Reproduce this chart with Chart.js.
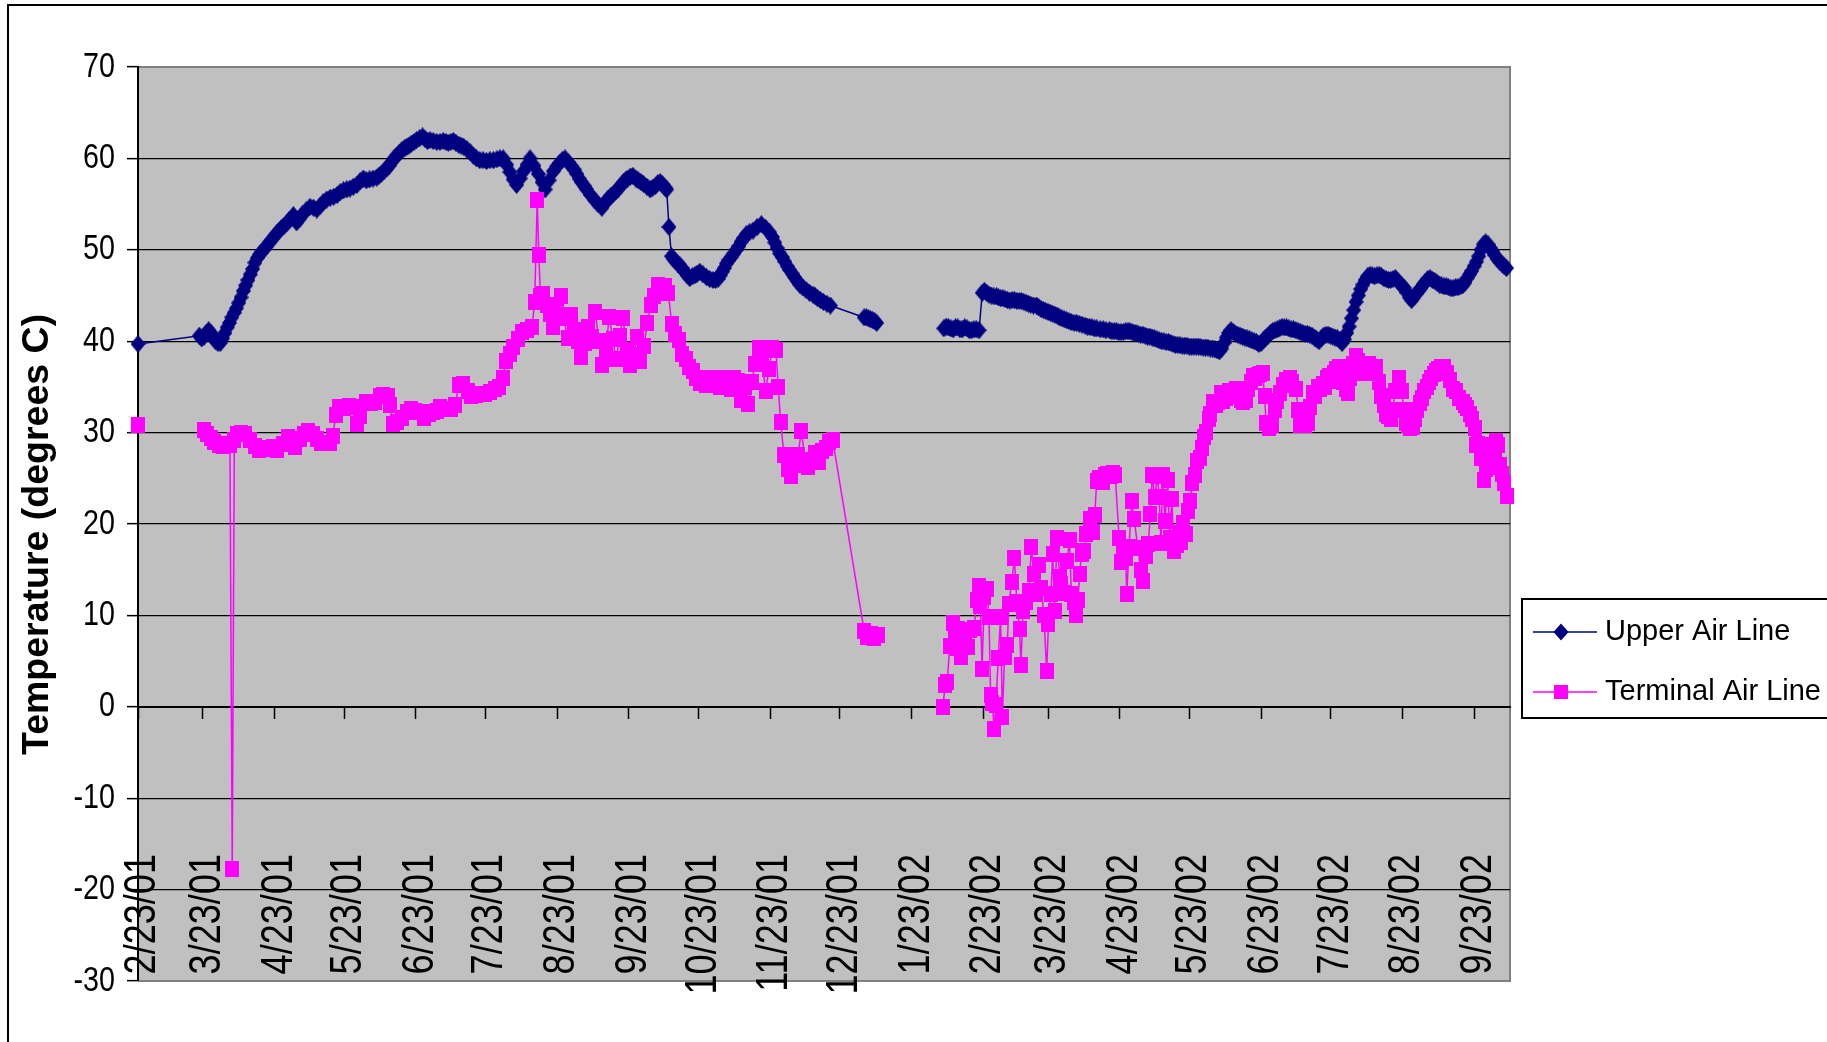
<!DOCTYPE html>
<html>
<head>
<meta charset="utf-8">
<title>Upper and Terminal Air Line Temperatures</title>
<script src="https://cdn.jsdelivr.net/npm/chart.js@4/dist/chart.umd.min.js"></script>
<style>
  html, body { margin: 0; padding: 0; background: #ffffff; overflow: hidden; }
  #wrap { position: relative; width: 1827px; height: 1042px; }
</style>
</head>
<body>
<div id="wrap"><canvas id="chart" width="1827" height="1042"></canvas></div>
<script>
// Category axis: the 23rd of every month, Feb 2001 to Sep 2002
const tickLabels = ['2/23/01', '3/23/01', '4/23/01', '5/23/01', '6/23/01', '7/23/01', '8/23/01',
  '9/23/01', '10/23/01', '11/23/01', '12/23/01', '1/23/02', '2/23/02', '3/23/02', '4/23/02',
  '5/23/02', '6/23/02', '7/23/02', '8/23/02', '9/23/02'];

// Readings: day counted from 2/23/01, temperature in degrees C (null = no reading)
const upperDays = [
  0, 26.5, 27.5, 28.5, 29.5, 30.5, 31.5, 32.5, 33.5, 34.5,
  35.5, 36.5, 37.5, 38.5, 39.5, 40.5, 41.5, 42.5, 43.5, 44.5,
  45.5, 46.5, 47.5, 48.5, 49.5, 50.5, 51.5, 52.5, 53.5, 54.5,
  55.6, 56.7, 57.8, 58.9, 59.9, 61, 62, 63.1, 64.2, 65.5,
  67.1, 68.5, 69.8, 71, 72.6, 74.3, 75.8, 77.2, 78.6, 80,
  81.5, 83, 84.5, 86, 87.3, 88.7, 90.1, 91.5, 93, 94.5,
  95.9, 97.3, 98.6, 100, 101.5, 103.1, 104, 105, 106.2, 107.4,
  108.5, 109.5, 110.6, 111.7, 112.8, 114, 115, 116, 117, 118,
  119.2, 120.3, 121.6, 122.9, 124, 125, 126.1, 127.5, 129, 130.4,
  131.8, 133, 134, 135.1, 136.2, 137.3, 138.5, 139.5, 140.5, 142,
  143.4, 144.8, 146.2, 147.6, 149, 150.5, 152, 153.5, 155, 156.3,
  157.7, 159.2, 160.6, 162, 163.5, 165, 166.5, 168, 169.3, 171,
  172.9, 174.5, 175.8, 177.5, 179.4, 180.7, 182, 183.2, 184.4, 185.7,
  187, 188.3, 189.5, 190.5, 191.5, 192.7, 193.8, 195.4, 197, 198.7,
  200.3, 201.7, 203, 204.2, 205.3, 206.4, 207.5, 208.5, 209.6, 210.5,
  211.5, 212.6, 213.7, 215, 216, 217.2, 218.3, 219.8, 221.2, 222.3,
  223.5, 224.5, 225.5, 226.3, 227, 227.7, 228.3, 229.3, 230.4, 231.2,
  232, 233, 234, 235, 236, 237.2, 238.3, 239.4, 240.5, 241.5,
  242.6, 244, 245.5, 246.9, 248.3, 249.4, 250.5, 251.4, 252.3, 253.2,
  254.1, 255.2, 256.2, 257.3, 258.4, 259.5, 260.5, 261.6, 262.7, 264,
  265.6, 267.4, 269.2, 271, 272.8, 274, 275, 276, 277.1, 278.2,
  279.3, 280.4, 281.4, 282.5, 283.5, 284.6, 285.7, 287, 288.5, 290,
  291.5, 292.5, 293.5, 294.7, 296, 297.5, 299, 313.6, 314.5, 315.4,
  316.3, 317.2, 318.1, 319, 333, 348, 349, 350, 351, 352,
  353, 354, 355, 356, 357, 358, 359, 360, 361, 362,
  363.2, 364.6, 365.5, 366.5, 367.5, 368.5, 369.6, 370.7, 371.6, 372.5,
  373.5, 374.5, 375.5, 376.5, 377.5, 378.5, 379.5, 380.5, 381.5, 382.5,
  383.5, 384.5, 385.5, 386.7, 388, 389, 390, 391, 392, 393,
  394, 395, 396, 397, 398, 399, 400, 401, 402, 403,
  404.2, 405.3, 406.5, 407.7, 409, 410, 411, 412, 413, 414,
  415.5, 416.8, 418, 419.5, 420.5, 421.5, 422.5, 423.5, 424.5, 425.5,
  426.5, 427.5, 428.3, 429.3, 430.2, 431, 432, 433, 434, 435,
  436, 437, 438, 439, 440, 441, 442, 443, 444, 445,
  446, 447, 448, 449, 450, 451, 452, 453, 454, 455,
  456, 457, 458, 459, 460, 461, 462, 463, 464, 465,
  466, 467, 468, 469, 470, 471, 472, 473, 474, 475,
  476, 477, 478, 479, 480, 481, 482, 483, 484, 485,
  486, 487, 488, 489, 490, 491, 492, 493, 494, 495,
  496, 497, 498, 499, 500, 501, 502, 503, 504, 505,
  506, 507, 508, 509, 510, 511, 512, 513, 514, 515,
  516, 517, 518, 519, 520, 521, 522, 523, 524, 525,
  526, 527, 528, 529, 530, 531, 532, 533, 534, 535,
  536, 537, 538, 539, 540, 541, 542, 543, 544, 545,
  546, 547, 548, 549, 550, 551, 552, 553, 554, 555,
  556, 557, 558, 559, 560, 561, 562, 563, 564, 565,
  566, 567, 568, 569, 570, 571, 572, 573, 574, 575,
  576, 577, 578, 579, 580, 581, 582, 583, 584, 585,
  586, 587, 588, 589, 590, 591];
const upperTemps = [
  39.7, 40.6, 40.3, 40.5, 40.9, 41.2, 40.9, 40.4, 40.0, 39.8,
  39.8, 40.3, 40.9, 41.5, 42.0, 42.6, 43.1, 43.6, 44.2, 44.8,
  45.5, 46.1, 46.7, 47.3, 47.9, 48.6, 49.1, 49.5, 49.8, 50.1,
  50.4, 50.8, 51.1, 51.5, 51.8, 52.1, 52.4, 52.6, 52.9, 53.3,
  53.8, 53.0, 53.4, 53.9, 54.3, 54.7, 54.6, 54.4, 54.8, 55.2,
  55.5, 55.7, 55.8, 56.0, 56.3, 56.5, 56.6, 56.7, 56.9, 57.1,
  57.5, 57.8, 57.6, 57.7, 57.8, 57.9, 58.1, 58.3, 58.6, 58.9,
  59.2, 59.6, 60.0, 60.3, 60.6, 60.9, 61.1, 61.25, 61.4, 61.6,
  61.8, 62.0, 62.2, 62.4, 62.1, 61.9, 62.0, 61.9, 61.8, 61.8,
  61.9, 61.8, 61.7, 61.8, 61.9, 61.7, 61.5, 61.4, 61.3, 61.0,
  60.7, 60.3, 60.0, 59.8, 59.8, 59.7, 59.8, 59.8, 59.9, 60.0,
  60.0, 59.3, 58.5, 57.7, 57.1, 57.8, 58.6, 59.3, 60.0, 59.2,
  58.3, 57.4, 56.6, 57.6, 58.6, 59.1, 59.5, 59.8, 60.0, 59.6,
  59.2, 58.8, 58.3, 57.8, 57.4, 57.0, 56.6, 56.0, 55.5, 55.0,
  54.6, 55.1, 55.6, 55.9, 56.1, 56.4, 56.7, 57.0, 57.4, 57.6,
  57.8, 58.0, 58.1, 57.8, 57.6, 57.4, 57.2, 56.9, 56.6, 56.8,
  57.0, 57.3, 57.4, 57.2, 57.0, 56.8, 56.6, 52.5, 49.3, 49.0,
  48.8, 48.5, 48.3, 48.0, 47.6, 47.2, 46.9, 47.1, 47.2, 47.4,
  47.6, 47.3, 47.0, 46.8, 46.7, 46.7, 46.8, 47.2, 47.6, 48.0,
  48.5, 48.9, 49.2, 49.6, 50.0, 50.4, 50.9, 51.3, 51.7, 51.9,
  52.1, 52.5, 52.8, 52.4, 51.9, 51.4, 50.8, 50.2, 49.6, 49.2,
  48.7, 48.2, 47.8, 47.4, 47.0, 46.6, 46.2, 45.9, 45.6, 45.3,
  45.1, 44.9, 44.7, 44.5, 44.3, 44.1, 43.9, 42.6, 42.6, 42.5,
  42.4, 42.3, 42.2, 42.0, null, 41.4, 41.6, 41.5, 41.4, 41.3,
  41.5, 41.5, 41.3, 41.3, 41.5, 41.4, 41.2, 41.2, 41.3, 41.3,
  41.2, 45.3, 45.5, 45.3, 45.1, 45.0, 44.9, 44.9, 44.8, 44.7,
  44.7, 44.6, 44.5, 44.45, 44.5, 44.5, 44.4, 44.4, 44.4, 44.3,
  44.2, 44.1, 44.0, 43.9, 43.9, 43.7, 43.5, 43.4, 43.3, 43.2,
  43.1, 43.0, 42.9, 42.8, 42.6, 42.5, 42.4, 42.3, 42.2, 42.1,
  42.0, 42.0, 41.9, 41.8, 41.7, 41.6, 41.55, 41.5, 41.4, 41.4,
  41.3, 41.3, 41.2, 41.2, 41.1, 41.1, 41.1, 41.0, 41.0, 41.0,
  41.1, 41.1, 41.1, 41.0, 40.9, 40.9, 40.8, 40.7, 40.7, 40.6,
  40.5, 40.5, 40.4, 40.3, 40.2, 40.1, 40.0, 40.0, 39.9, 39.9,
  39.8, 39.7, 39.6, 39.6, 39.55, 39.5, 39.5, 39.5, 39.4, 39.4,
  39.4, 39.4, 39.4, 39.35, 39.3, 39.3, 39.3, 39.2, 39.2, 39.1,
  39.0, 38.9, 39.2, 39.8, 40.4, 40.9, 41.2, 41.0, 40.8, 40.7,
  40.6, 40.5, 40.4, 40.3, 40.2, 40.1, 40.0, 39.9, 39.7, 39.8,
  40.1, 40.4, 40.6, 40.9, 41.1, 41.2, 41.3, 41.4, 41.55, 41.5,
  41.5, 41.4, 41.3, 41.3, 41.2, 41.1, 41.0, 40.9, 40.8, 40.8,
  40.7, 40.6, 40.4, 40.2, 40.0, 40.3, 40.6, 40.7, 40.7, 40.6,
  40.5, 40.4, 40.3, 40.1, 39.8, 40.2, 40.9, 41.6, 42.5, 43.4,
  44.3, 45.0, 45.7, 46.2, 46.7, 47.1, 47.25, 47.2, 47.1, 47.2,
  47.25, 47.1, 46.9, 46.8, 46.7, 46.7, 46.8, 46.9, 46.6, 46.3,
  46.0, 45.8, 45.3, 44.8, 44.5, 44.8, 45.2, 45.5, 45.8, 46.2,
  46.5, 46.8, 46.9, 46.7, 46.6, 46.4, 46.2, 46.1, 46.0, 46.0,
  45.9, 45.8, 45.8, 45.9, 45.9, 46.0, 46.1, 46.4, 46.9, 47.3,
  47.7, 48.2, 48.7, 49.3, 50.0, 50.6, 50.8, 50.6, 50.2, 49.8,
  49.4, 49.0, 48.7, 48.5, 48.2, 48.0];

const terminalDays = [0, 14, 28.4, 30, 31.5, 33, 35, 36.9, 38.3, 39.7, 40.7, 41.6, 42.6, 44.5,
  46.4, 48.5, 50.5, 52.3, 54.5, 56.5, 58.3, 60, 62.5, 64.8, 66.3, 67.6, 70, 71.8, 73.4, 75.5,
  77.5, 79.2, 81, 83, 84, 85.5, 86.8, 89, 91, 92.7, 94.6, 96, 98.4, 100.5, 102.5, 104.3, 106, 108,
  109, 110, 112, 114, 116, 117.7, 119.5, 121.5, 123.5, 125.5, 127.5, 129, 130.3, 132.5, 135, 137,
  138.5, 140.5, 142.5, 144, 146, 148, 150, 152, 154, 156, 157.5, 159, 160.5, 162, 164, 166, 168,
  170.2, 171.3, 172.4, 173.1, 173.8, 175, 176.5, 178, 179.4, 181, 182.5, 184, 185.5, 187, 188.5,
  190, 191.5, 193, 194.5, 196, 197.5, 199, 200.5, 202, 203.5, 205, 206.5, 208, 209.5, 211, 212.5,
  214, 215.5, 217, 218.5, 220, 221.5, 223, 224.5, 226, 227.5, 229, 230.5, 232, 233.5, 235, 236.5,
  238, 239.5, 241, 242.5, 244, 245.5, 247, 248.5, 250, 251.5, 253, 254.5, 256, 257.5, 259, 260.5,
  262, 263.5, 265, 266.5, 268, 269.5, 271, 272.5, 274, 275.5, 276.5, 277.5, 279, 280.5, 282,
  283.5, 285, 286.5, 288, 289.5, 291, 292.5, 294, 295.5, 297, 298.5, 300,
  313.6, 315, 316.5, 318, 319.5, 333,
  347.5, 348.7, 349.5, 350.5, 351.8, 352.7, 353.5, 354.3, 355.2, 356, 357.2, 358.3, 359.5, 361,
  362.4, 363.1, 363.8, 364.5, 365.5, 366.7, 367.5, 368.2, 369, 369.7, 370.5, 371.5, 372.5, 373.3,
  374.2, 375.4, 376.1, 377.3, 378.5, 379.5, 380.7, 381.3, 382.2, 383.3, 384.8, 385.8, 386.8, 388,
  389, 390, 391.2, 392.4, 393.2, 394.2, 395, 395.8, 396.9, 398, 398.8, 400, 401.2, 402.3, 403.1,
  404, 405.1, 406, 406.6, 407.5, 408.7, 409.5, 411.2, 412.3, 413.2, 414, 415.2, 416.6, 417.5,
  418.5, 420, 421, 422, 423.7, 424.5, 425.5, 426.5, 427, 428, 429.1, 430.2, 431.8, 433, 434.1,
  435.2, 436.3, 437.2, 438, 439, 440.2, 441, 441.8, 442.5, 443.5, 444.7, 445.5, 446.5, 447.3,
  448.5, 449.5, 450.5, 451.5, 452.6, 453.5, 454.3, 455.3, 456.3, 457.5, 458.5, 459.5, 460.5,
  461.3, 462.3, 463.1, 464.1, 465.5, 466.6, 467.5, 468.5, 469.9, 471, 472.1, 473.2, 474.2, 475.5,
  476.5, 477.4, 478.5, 479.5, 480.5, 481.4, 482.5, 483.5, 484.5, 485.7, 486.5, 487.2, 488.5,
  489.9, 491, 492, 493, 494.5, 495.8, 497.3, 498.5, 500.1, 501, 501.6, 503, 504, 505.2, 506.3,
  507.3, 508.5, 509.5, 510.5, 511.6, 512.5, 513.5, 514.5, 515.5, 516.5, 517.5, 518.8, 519.8,
  520.5, 521.5, 522.4, 523.5, 524.5, 526, 527, 528.5, 529.5, 530.3, 531.5, 532.5, 533.5, 534.7,
  536, 537, 538, 539, 540, 541, 541.8, 543, 544.7, 545.7, 546.7, 547.6, 548.5, 549.5, 550.4,
  551.5, 552.5, 553.5, 554.5, 555.5, 556.5, 557.5, 558.5, 559.5, 560.5, 561.5, 562.5, 564.1,
  565.2, 566.5, 567.7, 569, 570.5, 572, 573, 574.1, 575.2, 576.3, 577.3, 577.8, 578.8, 580,
  581.4, 582.3, 583.2, 584.2, 585, 586, 586.6, 587.5, 588.3, 589.2, 590, 591];
const terminalTemps = [30.8, null, 30.3, 29.8, 29.4, 29.0, 28.6, 28.5, 28.7, 28.6, -17.7, 29.2,
  29.9, 30.0, 29.9, 29.2, 28.5, 28.1, 28.3, 28.2, 28.4, 28.1, 28.7, 29.5, 29.0, 28.4, 29.3, 29.8,
  30.2, 29.8, 29.3, 28.9, 28.9, 28.9, 29.6, 31.9, 32.8, 32.7, 32.9, 32.8, 30.9, 31.8, 33.3, 33.2,
  33.4, 34.0, 34.1, 34.0, 33.0, 30.9, 31.2, 31.6, 32.2, 32.6, 32.4, 32.3, 31.6, 32.0, 32.2, 32.4,
  32.8, 32.6, 32.6, 33.0, 35.2, 35.3, 34.6, 34.0, 34.1, 34.2, 34.2, 34.4, 34.8, 35.0, 36.0, 37.8,
  38.6, 39.4, 40.2, 41.0, 41.2, 41.5, 44.3, 55.4, 49.4, 44.9, 45.2, 44.0, 43.0, 41.6, 44.0, 44.9,
  42.5, 40.3, 42.9, 41.2, 40.0, 38.3, 39.8, 41.6, 40.5, 43.2, 40.0, 37.4, 39.0, 42.7, 40.2, 38.0,
  40.6, 42.5, 39.0, 37.4, 38.5, 40.5, 37.8, 39.5, 42.0, 44.0, 45.0, 46.2, 45.8, 46.0, 45.3, 41.9,
  40.8, 40.1, 38.6, 38.0, 37.2, 36.7, 36.0, 35.4, 35.8, 35.2, 36.0, 35.5, 35.9, 35.0, 36.0, 35.4,
  34.8, 36.0, 35.6, 33.6, 35.0, 33.1, 35.5, 37.5, 39.3, 38.0, 34.5, 37.0, 39.3, 39.0, 35.0, 31.2,
  27.5, 26.0, 25.3, 26.5, 27.5, 30.2, 27.0, 26.2, 27.0, 27.8, 26.8, 28.0, 28.3, 29.0, 29.2,
  8.3, 7.6, 8.0, 7.5, 7.9, null,
  0.0, 2.4, 2.7, 6.6, 9.2, 7.6, 6.4, 8.5, 5.4, 7.3, 8.2, 6.5, 8.4, 8.6, 11.7, 13.2, 11.0, 4.1,
  12.0, 12.9, 9.8, 1.3, 0.4, -2.4, 0.2, 5.3, 9.8, -1.1, 5.5, 6.8, 11.3, 13.6, 16.3, 11.5, 8.5, 4.6,
  10.5, 11.5, 12.7, 17.5, 14.5, 12.3, 15.5, 13.0, 10.0, 3.9, 9.1, 12.3, 16.7, 10.5, 18.5, 14.2,
  13.4, 12.5, 16.0, 18.3, 12.3, 11.5, 10.0, 11.7, 14.5, 16.7, 17.0, 18.9, 20.5, 19.1, 21.0, 24.7,
  25.0, 24.6, 25.4, 25.5, 25.2, 25.6, 25.4, 18.5, 15.8, 17.0, 16.3, 12.3, 17.5, 22.5, 20.5, 17.4,
  15.0, 13.8, 16.5, 17.8, 21.1, 25.4, 22.9, 25.2, 23.0, 17.9, 25.4, 20.3, 24.8, 18.5, 22.7, 17.1,
  17.7, 19.0, 18.0, 20.1, 18.9, 21.4, 22.5, 24.5, 25.4, 26.9, 27.2, 28.3, 29.5, 30.1, 31.5, 32.0,
  33.4, 33.0, 33.4, 34.3, 33.5, 33.8, 34.5, 34.5, 34.0, 34.8, 34.2, 33.6, 33.4, 33.6, 34.8, 35.5,
  36.2, 36.0, 36.3, 36.4, 36.5, 34.0, 31.0, 30.5, 30.8, 32.5, 33.5, 34.3, 35.2, 35.8, 36.0, 35.5,
  34.8, 32.5, 30.8, 31.0, 30.8, 31.0, 32.8, 34.3, 34.0, 35.0, 34.8, 35.3, 35.0, 36.0, 36.2, 35.6,
  36.5, 37.0, 37.2, 36.5, 35.5, 34.8, 34.3, 36.0, 37.5, 38.4, 37.8, 37.0, 36.5, 36.7, 37.5, 37.0,
  36.5, 37.2, 35.5, 34.0, 33.0, 32.0, 31.8, 31.5, 32.5, 34.5, 36.0, 34.5, 32.5, 31.0, 30.8, 30.5,
  30.6, 31.5, 32.5, 33.2, 33.8, 34.5, 35.0, 35.5, 36.0, 36.4, 36.7, 37.0, 37.2, 37.2, 36.5, 35.8,
  34.8, 34.5, 33.8, 33.4, 33.0, 32.7, 32.0, 31.5, 30.5, 28.6, 28.7, 27.2, 24.8, 26.0, 27.5, 28.6,
  26.2, 27.0, 29.1, 28.6, 26.5, 25.5, 24.5, 23.1];

const seriesNames = ['Upper Air Line', 'Terminal Air Line'];
const axisTitle = 'Temperature (degrees C)';

// Tick positions: days between each label's date and the first label's date
function dayOf(label) {
  const [m, d, y] = label.split('/').map(Number);
  return Math.round((Date.UTC(2000 + y, m - 1, d) - Date.UTC(2001, 1, 23)) / 86400000);
}
const tickDays = tickLabels.map(dayOf);

const toPoints = (days, temps) => days.map((d, i) => ({ x: d, y: temps[i] }));

const NAVY = '#000080';
const MAGENTA = '#FF00FF';
const SANS = '"Liberation Sans", Arial, sans-serif';
const NARROW_X = 0.82;   // horizontal squeeze giving the condensed axis lettering

// Marker sprites: tall diamond and square, as used for the two series
function marker(kind, w, h, color) {
  const c = document.createElement('canvas');
  c.width = w; c.height = h;
  const g = c.getContext('2d');
  g.fillStyle = color;
  g.beginPath();
  if (kind === 'diamond') {
    g.moveTo(0, h / 2); g.lineTo(w / 2, 0); g.lineTo(w, h / 2); g.lineTo(w / 2, h);
    g.closePath();
  } else {
    g.rect(0, 0, w, h);
  }
  g.fill();
  return c;
}
const diamondMark = marker('diamond', 15, 18, NAVY);
const squareMark = marker('square', 14, 16, MAGENTA);

const setTicks = scale => { scale.ticks = tickDays.map(v => ({ value: v })); };

// Page frame, grey plot area and its border
const frame = {
  id: 'frame',
  beforeDraw(chart) {
    const { ctx, chartArea: a } = chart;
    ctx.save();
    ctx.fillStyle = '#ffffff';
    ctx.fillRect(0, 0, chart.width, chart.height);
    ctx.strokeStyle = '#000000';
    ctx.lineWidth = 2;
    ctx.strokeRect(8, 5, chart.width + 20, chart.height + 20);
    ctx.fillStyle = '#C0C0C0';
    ctx.fillRect(a.left, a.top, a.right - a.left, a.bottom - a.top);
    ctx.strokeStyle = '#808080';
    ctx.lineWidth = 2;
    ctx.beginPath();
    ctx.moveTo(a.left, a.top);
    ctx.lineTo(a.right, a.top);
    ctx.lineTo(a.right, a.bottom);
    ctx.lineTo(a.left, a.bottom);
    ctx.stroke();
    ctx.restore();
  }
};

// Condensed tick labels placed from the chart's own scales
const axisLabels = {
  id: 'axisLabels',
  beforeDatasetsDraw(chart) {
    const { ctx } = chart;
    const ys = chart.scales.y, xs = chart.scales.x;
    ctx.save();
    ctx.fillStyle = '#000000';

    ctx.font = '35px ' + SANS;
    ctx.textAlign = 'right';
    ctx.textBaseline = 'middle';
    ys.ticks.forEach((t, i) => {
      ctx.save();
      ctx.translate(ys.right - 23, ys.getPixelForTick(i));
      ctx.scale(NARROW_X, 1);
      ctx.fillText(String(t.value), 0, 0);
      ctx.restore();
    });

    ctx.font = '44px ' + SANS;
    const yEnd = ys.getPixelForValue(-20) - 35.6;
    xs.ticks.forEach((t, i) => {
      ctx.save();
      ctx.translate(xs.getPixelForTick(i) + 5, yEnd);
      ctx.rotate(-Math.PI / 2);
      ctx.scale(NARROW_X, 1);
      ctx.fillText(tickLabels[i], 0, 0);
      ctx.restore();
    });
    ctx.restore();
  }
};

// Boxed legend to the right of the plot area
const boxLegend = {
  id: 'boxLegend',
  afterDraw(chart) {
    const { ctx, chartArea: a } = chart;
    const left = a.right + 12, top = 599, height = 119;
    ctx.save();
    ctx.fillStyle = '#ffffff';
    ctx.fillRect(left, top, chart.width - left + 10, height);
    ctx.strokeStyle = '#000000';
    ctx.lineWidth = 2;
    ctx.strokeRect(left, top, chart.width - left + 10, height);
    chart.data.datasets.forEach((ds, i) => {
      const y = top + 33 + i * 60;
      const cx = left + 39;
      ctx.strokeStyle = ds.borderColor;
      ctx.lineWidth = 1.5;
      ctx.beginPath();
      ctx.moveTo(left + 11, y);
      ctx.lineTo(left + 75, y);
      ctx.stroke();
      ctx.fillStyle = ds.borderColor;
      ctx.beginPath();
      if (ds.pointStyle === diamondMark) {
        ctx.moveTo(cx - 7.5, y);
        ctx.lineTo(cx, y - 8.5);
        ctx.lineTo(cx + 7.5, y);
        ctx.lineTo(cx, y + 8.5);
        ctx.closePath();
      } else {
        ctx.rect(cx - 7, y - 7, 14, 14);
      }
      ctx.fill();
      ctx.fillStyle = '#000000';
      ctx.font = '29px ' + SANS;
      ctx.textBaseline = 'alphabetic';
      ctx.textAlign = 'left';
      ctx.fillText(ds.label, left + 83, y + 8);
    });
    ctx.restore();
  }
};

new Chart(document.getElementById('chart'), {
  type: 'line',
  data: {
    datasets: [
      {
        label: seriesNames[0],
        data: toPoints(upperDays, upperTemps),
        borderColor: NAVY,
        backgroundColor: NAVY,
        borderWidth: 1.5,
        pointStyle: diamondMark,
        pointRadius: 8,
        tension: 0,
        spanGaps: false,
        clip: false,
        order: 1
      },
      {
        label: seriesNames[1],
        data: toPoints(terminalDays, terminalTemps),
        borderColor: MAGENTA,
        backgroundColor: MAGENTA,
        borderWidth: 1.5,
        pointStyle: squareMark,
        pointRadius: 8,
        tension: 0,
        spanGaps: false,
        clip: false,
        order: 0
      }
    ]
  },
  options: {
    responsive: false,
    animation: false,
    devicePixelRatio: 1,
    layout: { padding: { left: 0, top: 67, right: 317, bottom: 61 } },
    plugins: { legend: { display: false }, tooltip: { enabled: false } },
    scales: {
      x: {
        type: 'linear',
        position: { y: 0 },
        min: 0,
        max: 592.5,
        afterBuildTicks: setTicks,
        afterFit: s => { s.height = 0; },
        grid: { display: true, drawOnChartArea: false, drawTicks: true, tickLength: 11, tickColor: '#000000', tickWidth: 1.5 },
        border: { display: true, color: '#000000', width: 2 },
        ticks: { display: false, autoSkip: false }
      },
      y: {
        type: 'linear',
        position: 'left',
        min: -30,
        max: 70,
        afterFit: s => { s.width = 138; },
        ticks: { display: false, stepSize: 10 },
        grid: {
          color: c => (c.tick && (c.tick.value === 70 || c.tick.value === -30)) ? 'rgba(0,0,0,0)' : '#000000',
          lineWidth: 1.3,
          drawTicks: true,
          tickLength: 11,
          tickColor: '#000000',
          tickWidth: 1.5
        },
        border: { display: true, color: '#000000', width: 2 },
        title: {
          display: true,
          text: axisTitle + '\u00a0\u00a0',
          color: '#000000',
          font: { family: SANS, size: 37.5, weight: 'bold' },
          padding: { top: 15.5, bottom: 0 }
        }
      }
    }
  },
  plugins: [frame, axisLabels, boxLegend]
});
</script>
</body>
</html>
